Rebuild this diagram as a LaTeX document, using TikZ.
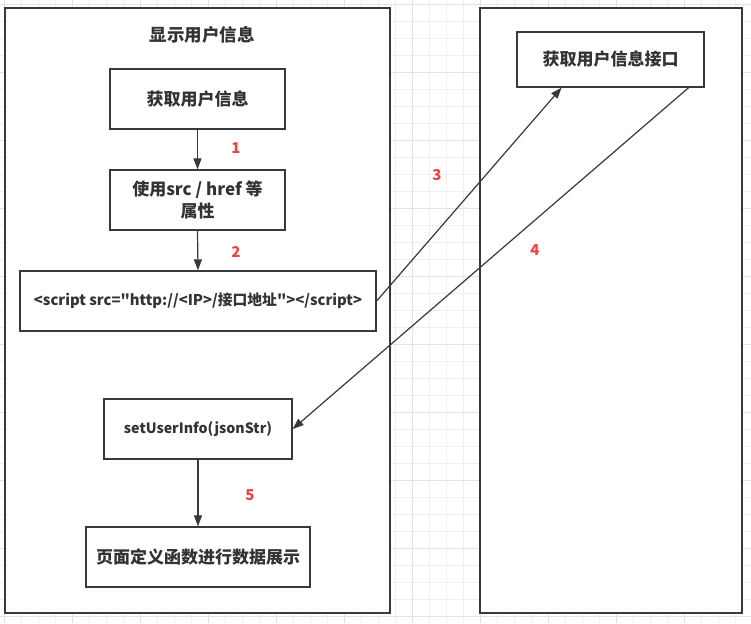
\documentclass[tikz,border=0pt]{standalone}
\usepackage{fontspec}
\newfontfamily\cjkf{Noto Sans CJK SC}
\usetikzlibrary{arrows.meta,calc}
\definecolor{linec}{HTML}{36393D}
\definecolor{txtc}{HTML}{333333}
\definecolor{redc}{HTML}{EA4545}
\definecolor{gridminor}{HTML}{EFEFEF}
\definecolor{gridmajor}{HTML}{E2E2E2}
\tikzset{
  container/.style={draw=linec,line width=1.6pt,fill=white,minimum width=#1,inner sep=0pt},
  box/.style={draw=linec,line width=1.3pt,fill=white,align=center,text=txtc,font=\cjkf\bfseries\fontsize{17}{22}\selectfont,inner sep=0pt},
  conn/.style={draw=linec,line width=1.2pt,-{Triangle[length=11pt,width=8pt]}},
  num/.style={text=redc,font=\cjkf\bfseries\fontsize{15}{17}\selectfont},
  ttl/.style={text=txtc,font=\cjkf\bfseries\fontsize{17.5}{20}\selectfont}
}
\begin{document}
\begin{tikzpicture}[x=1pt,y=-1pt]
\useasboundingbox (0,0) rectangle (751,623);
\fill[white] (0,0) rectangle (751,623);
\foreach \x in {4,21,...,751} \draw[gridminor,line width=0.8pt] (\x,0) -- (\x,623);
\foreach \y in {4,21,...,623} \draw[gridminor,line width=0.8pt] (0,\y) -- (751,\y);
\foreach \x in {4,72,...,751} \draw[gridmajor,line width=0.8pt] (\x,0) -- (\x,623);
\foreach \y in {4,72,...,623} \draw[gridmajor,line width=0.8pt] (0,\y) -- (751,\y);

\node[container=385pt,minimum height=605pt] (left) at (197.5,310.5) {};
\node[container=262pt,minimum height=605pt] (right) at (611,310.5) {};
\node[ttl] (title) at (202,35) {显示用户信息};

\node[box,minimum width=175pt,minimum height=60pt] (b1) at (197.5,99) {获取用户信息};
\node[box,minimum width=175pt,minimum height=60pt] (b2) at (197.5,200) {使用src / href 等\\属性};
\node[box,minimum width=356pt,minimum height=60pt,font=\cjkf\bfseries\fontsize{14.8}{17}\selectfont] (b3) at (198,301) {<script src="http://<IP>/接口地址"></script>};
\node[box,minimum width=188pt,minimum height=60pt,font=\cjkf\bfseries\fontsize{14.2}{17}\selectfont] (b4) at (198,429) {setUserInfo(jsonStr)};
\node[box,minimum width=224pt,minimum height=60pt] (b5) at (198,557) {页面定义函数进行数据展示};
\node[box,minimum width=187pt,minimum height=55pt] (api) at (610.5,59.5) {获取用户信息接口};

\coordinate (a3end) at ($(api.south west)!0.24!(api.south east)$);
\coordinate (a4start) at ($(api.south west)!0.915!(api.south east)$);

\draw[conn] (b1.south) -- (b2.north);
\draw[conn] (b2.south) -- (b3.north);
\draw[conn] (b3.east) -- (a3end);
\draw[conn] (a4start) -- (b4.east);
\draw[conn] (b4.south) -- (b5.north);

\node[num] (n1) at (236,148) {1};
\node[num] (n2) at (236,252) {2};
\node[num] (n3) at (437,175) {3};
\node[num] (n4) at (535,250) {4};
\node[num] (n5) at (250,495) {5};
\end{tikzpicture}
\end{document}
